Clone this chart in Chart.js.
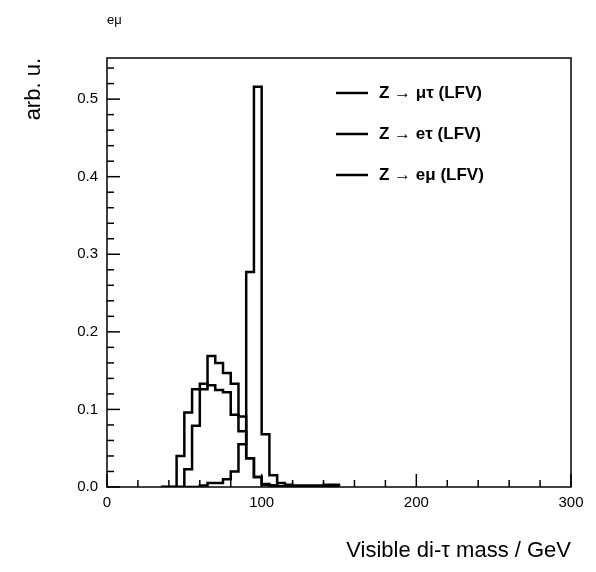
<!DOCTYPE html>
<html><head><meta charset="utf-8">
<script src="https://cdn.jsdelivr.net/npm/chart.js@4"></script>
<style>body{margin:0;background:#fff}#wrap{width:596px;height:572px}</style>
</head><body><div id="wrap"><canvas id="c"></canvas></div>
<script>
'use strict';

// ====== DATA ======
const binEdges = [35, 40, 45, 50, 55, 60, 65, 70, 75, 80, 85, 90, 95, 100, 105, 110, 115, 120, 130, 140, 150];
const muTau = [0, 0.040, 0.096, 0.126, 0.133, 0.131, 0.125, 0.122, 0.093, 0.091, 0.037, 0.013, 0.003, 0.002, 0.001, 0.001, 0.001, 0.001, 0.001, 0.001];
const eTau  = [0, 0, 0.023, 0.079, 0.126, 0.169, 0.160, 0.147, 0.133, 0.072, 0.037, 0.013, 0.004, 0.002, 0.001, 0.001, 0.001, 0.001, 0.001, 0.001];
const eMu   = [0, 0, 0, 0, 0.002, 0.005, 0.005, 0.010, 0.020, 0.055, 0.277, 0.516, 0.068, 0.015, 0.005, 0.003, 0.002, 0.002, 0.003, 0.001];
const xTicks = [0, 100, 200, 300];
const yTicks = [0, 0.1, 0.2, 0.3, 0.4, 0.5];
const legendLabels = ['Z \u2192 \u03bc\u03c4 (LFV)', 'Z \u2192 e\u03c4 (LFV)', 'Z \u2192 e\u03bc (LFV)'];

// point i sits at the right edge of bin i, so 'before' draws the bin top across it
function steps(vals) {
    const pts = [{ x: binEdges[0], y: 0 }];
    vals.forEach((v, i) => pts.push({ x: binEdges[i + 1], y: v }));
    return pts;
}

// ====== FRAME / TICKS / LABELS ======
const rootStyle = {
    id: 'rootStyle',
    afterDraw(chart) {
        const { ctx, chartArea: a, scales: { x, y } } = chart;
        ctx.save();
        ctx.strokeStyle = '#000';
        ctx.lineWidth = 1.5;
        ctx.strokeRect(a.left, a.top, a.right - a.left, a.bottom - a.top);
        ctx.fillStyle = '#000';
        ctx.font = '15px "Liberation Sans", Arial, sans-serif';
        ctx.textAlign = 'center'; ctx.textBaseline = 'top';
        for (let v = 0; v <= 300; v += 20) {
            const px = x.getPixelForValue(v);
            const len = v % 100 === 0 ? 13 : 7;
            ctx.beginPath(); ctx.moveTo(px, a.bottom); ctx.lineTo(px, a.bottom - len); ctx.stroke();
        }
        xTicks.forEach(v => ctx.fillText(String(v), x.getPixelForValue(v), a.bottom + 8));
        ctx.textAlign = 'right'; ctx.textBaseline = 'middle';
        for (let i = 0; i <= 27; i++) {
            const py = y.getPixelForValue(i * 0.02);
            if (py < a.top) break;
            const len = i % 5 === 0 ? 13 : 7;
            ctx.beginPath(); ctx.moveTo(a.left, py); ctx.lineTo(a.left + len, py); ctx.stroke();
        }
        yTicks.forEach(v => ctx.fillText(v.toFixed(1), a.left - 9, y.getPixelForValue(v)));
        ctx.font = '22px "Liberation Sans", Arial, sans-serif';
        ctx.textAlign = 'right'; ctx.textBaseline = 'alphabetic';
        ctx.fillText('Visible di-\u03c4 mass / GeV', a.right, 557);
        ctx.save();
        ctx.translate(40, a.top);
        ctx.rotate(-Math.PI / 2);
        ctx.fillText('arb. u.', 0, 0);
        ctx.restore();
        ctx.font = '13px "Liberation Sans", Arial, sans-serif';
        ctx.textAlign = 'left';
        ctx.fillText('e\u03bc', 107, 24);
        // legend
        ctx.font = 'bold 17px "Liberation Sans", Arial, sans-serif';
        ctx.lineWidth = 2.5;
        ctx.textBaseline = 'middle';
        legendLabels.forEach((t, i) => {
            const ly = 93 + i * 41;
            ctx.beginPath(); ctx.moveTo(336, ly); ctx.lineTo(368, ly); ctx.stroke();
            ctx.fillText(t, 379, ly);
        });
        ctx.restore();
    }
};

const ds = (label, vals) => ({
    label, data: steps(vals), stepped: 'before',
    borderColor: '#000', borderWidth: 2.5, pointRadius: 0, fill: false
});

new Chart(document.getElementById('c'), {
    type: 'line',
    data: { datasets: [ds('mutau', muTau), ds('etau', eTau), ds('emu', eMu)] },
    options: {
        responsive: true,
        maintainAspectRatio: false,
        animation: false,
        layout: { padding: { left: 107, right: 25, top: 58, bottom: 85 } },
        plugins: { legend: { display: false }, tooltip: { enabled: false } },
        scales: {
            x: { type: 'linear', min: 0, max: 300, display: false },
            y: { min: 0, max: 0.553, display: false }
        }
    },
    plugins: [rootStyle]
});
</script></body></html>
